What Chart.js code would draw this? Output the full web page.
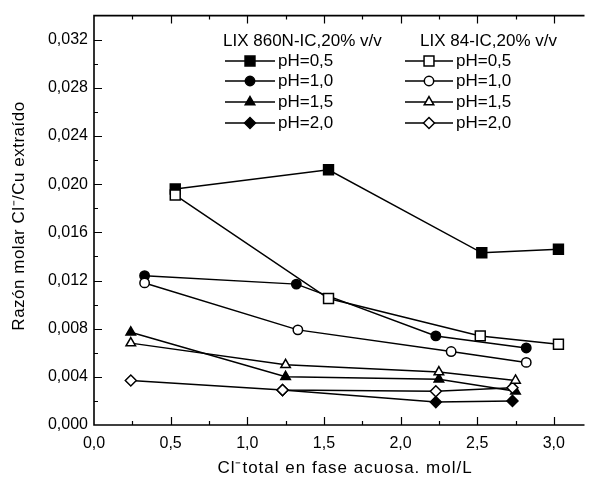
<!DOCTYPE html>
<html>
<head>
<meta charset="utf-8">
<script src="https://cdn.jsdelivr.net/npm/chart.js@4.4.0/dist/chart.umd.min.js"></script>
<style>
  html, body { margin: 0; padding: 0; background: #fff; }
  #wrap { width: 593px; height: 483px; }
</style>
</head>
<body>
<div id="wrap"><canvas id="myChart" width="593" height="483"></canvas></div>
<script>
// LIX 860N-IC, 20% v/v (filled markers)
const x860_05 = [0.53, 1.53, 2.53, 3.03];
const y860_05 = [0.0196, 0.0212, 0.0143, 0.0146];
const x860_10 = [0.33, 1.32, 2.23, 2.82];
const y860_10 = [0.0124, 0.0117, 0.0074, 0.0064];
const x860_15 = [0.24, 1.25, 2.25, 2.75];
const y860_15 = [0.0077, 0.0040, 0.0038, 0.0028];
const x860_20 = [1.23, 2.23, 2.73];
const y860_20 = [0.0029, 0.0019, 0.0020];

// LIX 84-IC, 20% v/v (open markers)
const x84_05 = [0.53, 1.53, 2.52, 3.03];
const y84_05 = [0.0191, 0.0105, 0.0074, 0.0067];
const x84_10 = [0.33, 1.33, 2.33, 2.82];
const y84_10 = [0.0118, 0.0079, 0.0061, 0.0052];
const x84_15 = [0.24, 1.25, 2.25, 2.75];
const y84_15 = [0.0068, 0.0050, 0.0044, 0.0037];
const x84_20 = [0.24, 1.23, 2.23, 2.73];
const y84_20 = [0.0037, 0.0029, 0.0028, 0.0031];

const pHLabels = ["pH=0,5", "pH=1,0", "pH=1,5", "pH=2,0"];
const groupTitles = ["LIX 860N-IC,20% v/v", "LIX 84-IC,20% v/v"];

const yTicks = [0, 0.004, 0.008, 0.012, 0.016, 0.020, 0.024, 0.028, 0.032];
const xTicks = [0, 0.5, 1.0, 1.5, 2.0, 2.5, 3.0];

const xTitle = "Cl\u207Btotal en fase acuosa. mol/L";
const yTitle = "Razón molar Cl\u207B/Cu extraído";

const FONT = "Arial, 'Liberation Sans', sans-serif";

const toPoints = (xs, ys) => xs.map((x, i) => ({ x: x, y: ys[i] }));

const marker = { rect: 7, circle: 4.7, triangle: 5.5, rectRot: 5.5 };

const makeSet = (label, xs, ys, style, filled, group) => ({
  label: label,
  data: toPoints(xs, ys),
  group: group,
  borderColor: "#000",
  borderWidth: 1.5,
  backgroundColor: filled ? "#000" : "#fff",
  pointStyle: style,
  pointRadius: marker[style],
  pointBorderWidth: 1.5,
  pointBackgroundColor: filled ? "#000" : "#fff",
  pointBorderColor: "#000",
  tension: 0,
  order: filled ? 1 : 0,
});

const datasets = [
  makeSet(pHLabels[0], x860_05, y860_05, "rect", true, 0),
  makeSet(pHLabels[1], x860_10, y860_10, "circle", true, 0),
  makeSet(pHLabels[2], x860_15, y860_15, "triangle", true, 0),
  makeSet(pHLabels[3], x860_20, y860_20, "rectRot", true, 0),
  makeSet(pHLabels[0], x84_05, y84_05, "rect", false, 1),
  makeSet(pHLabels[1], x84_10, y84_10, "circle", false, 1),
  makeSet(pHLabels[2], x84_15, y84_15, "triangle", false, 1),
  makeSet(pHLabels[3], x84_20, y84_20, "rectRot", false, 1),
];

// frame with inward ticks on left, bottom and top
const framePlugin = {
  id: "frame",
  beforeDatasetsDraw(chart) {
    const { ctx, chartArea: a, scales } = chart;
    const xs = scales.x;
    const ys = scales.y;
    ctx.save();
    ctx.strokeStyle = "#000";
    ctx.lineWidth = 1.6;
    ctx.beginPath();
    ctx.moveTo(a.right, a.top);
    ctx.lineTo(a.left, a.top);
    ctx.lineTo(a.left, a.bottom);
    ctx.lineTo(a.right, a.bottom);
    ctx.stroke();

    ctx.lineWidth = 1.2;
    ctx.beginPath();
    for (let v = 0; v <= 3.2 + 1e-9; v += 0.25) {
      const major = Math.abs(v / 0.5 - Math.round(v / 0.5)) < 1e-6;
      const len = major ? 8 : 4;
      const px = Math.round(xs.getPixelForValue(v)) + 0.5;
      if (px <= a.left + 1) continue;
      ctx.moveTo(px, a.bottom);
      ctx.lineTo(px, a.bottom - len);
      ctx.moveTo(px, a.top);
      ctx.lineTo(px, a.top + len);
    }
    for (let v = 0.002; v <= 0.034 + 1e-9; v += 0.002) {
      const major = Math.abs(v / 0.004 - Math.round(v / 0.004)) < 1e-6;
      const len = major ? 8 : 4;
      const py = Math.round(ys.getPixelForValue(v)) + 0.5;
      if (py <= a.top + 1) continue;
      ctx.moveTo(a.left, py);
      ctx.lineTo(a.left + len, py);
    }
    ctx.stroke();
    ctx.restore();
  },
};

// axis titles and the two-column legend inside the plot area
const textPlugin = {
  id: "texts",
  afterDraw(chart) {
    const { ctx } = chart;
    ctx.save();
    ctx.fillStyle = "#000";
    ctx.textBaseline = "middle";

    // axis titles, slightly spaced out
    ctx.font = "17px " + FONT;
    ctx.letterSpacing = "1px";
    ctx.textAlign = "center";
    ctx.fillText(xTitle, 345, 468);
    ctx.letterSpacing = "0.5px";
    ctx.save();
    ctx.translate(19, 216);
    ctx.rotate(-Math.PI / 2);
    ctx.fillText(yTitle, 0, 0);
    ctx.restore();

    const cols = [
      { title: 223, lineStart: 225, lineEnd: 275, text: 278 },
      { title: 420, lineStart: 405, lineEnd: 453, text: 456 },
    ];
    const rows = [61, 81, 102, 123];
    ctx.letterSpacing = "0px";
    ctx.textAlign = "left";
    groupTitles.forEach((t, i) => ctx.fillText(t, cols[i].title, 41));

    chart.data.datasets.forEach((ds) => {
      const col = cols[ds.group];
      const row = rows[pHLabels.indexOf(ds.label)];
      ctx.strokeStyle = "#000";
      ctx.lineWidth = 1.5;
      ctx.beginPath();
      ctx.moveTo(col.lineStart, row);
      ctx.lineTo(col.lineEnd, row);
      ctx.stroke();
      ctx.fillStyle = ds.pointBackgroundColor;
      ctx.strokeStyle = ds.pointBorderColor;
      Chart.helpers.drawPoint(ctx, {
        pointStyle: ds.pointStyle,
        radius: ds.pointRadius,
        rotation: 0,
        borderWidth: ds.pointBorderWidth,
      }, (col.lineStart + col.lineEnd) / 2, row);
      ctx.fillStyle = "#000";
      ctx.fillText(ds.label, col.text, row);
    });
    ctx.restore();
  },
};

const ctx = document.getElementById("myChart").getContext("2d");
const myChart = new Chart(ctx, {
  type: "line",
  data: { datasets: datasets },
  plugins: [framePlugin, textPlugin],
  options: {
    responsive: false,
    animation: false,
    devicePixelRatio: 1,
    layout: { padding: { top: 13, right: 0, left: 0, bottom: 0 } },
    plugins: {
      legend: { display: false },
      tooltip: { enabled: false },
    },
    scales: {
      x: {
        type: "linear",
        min: 0,
        max: 3.2,
        grid: { display: false, drawTicks: false },
        border: { display: false },
        afterBuildTicks: (scale) => {
          scale.ticks = xTicks.map((v) => ({ value: v }));
        },
        afterFit: (scale) => { scale.height = 58; },
        ticks: {
          padding: 9,
          color: "#000",
          font: { family: FONT, size: 16 },
          maxRotation: 0,
          callback: (v) => v.toFixed(1).replace(".", ","),
        },
      },
      y: {
        type: "linear",
        min: 0,
        max: 0.034,
        grid: { display: false, drawTicks: false },
        border: { display: false },
        afterBuildTicks: (scale) => {
          scale.ticks = yTicks.map((v) => ({ value: v }));
        },
        afterFit: (scale) => { scale.width = 94; },
        ticks: {
          padding: 6,
          color: "#000",
          font: { family: FONT, size: 16 },
          callback: (v) => v.toFixed(3).replace(".", ","),
        },
      },
    },
  },
});
</script>
</body>
</html>
